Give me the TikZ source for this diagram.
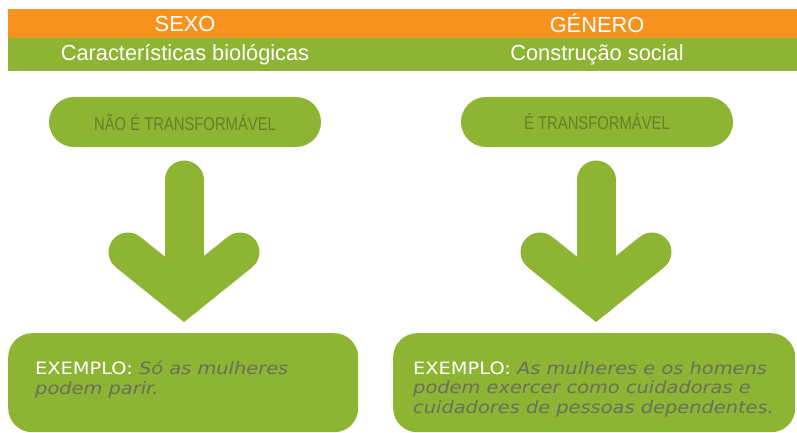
\documentclass[tikz,border=0pt]{standalone}
\usepackage{fontspec}
\setmainfont{Liberation Sans}
\newfontfamily\widefont[FakeStretch=1.14]{DejaVu Sans}
\newfontfamily\pillfont[FakeStretch=0.8]{Liberation Sans}
\definecolor{barorange}{RGB}{246,146,30}
\definecolor{leafgreen}{RGB}{141,180,50}
\definecolor{pilltext}{RGB}{100,128,40}
\definecolor{notegray}{RGB}{104,112,92}
\begin{document}
\begin{tikzpicture}[
        x=1pt, y=-1pt,
        headtext/.style={text=white, inner sep=0pt, font=\fontsize{21.8}{24}\selectfont},
        pill/.style={fill=leafgreen, rounded corners=25pt, minimum width=272pt, minimum height=50pt,
            text=pilltext, font=\pillfont\fontsize{18.5}{20}\selectfont},
        notebox/.style={fill=leafgreen, rounded corners=24pt, minimum height=99pt, anchor=north west},
        notetext/.style={anchor=north west, align=left, inner sep=0pt, text=notegray,
            font=\widefont\fontsize{17}{19.5}\selectfont},
        arrowpart/.style={draw=leafgreen, line width=39pt, line cap=round}
    ]
        \useasboundingbox (0,0) rectangle (797,433);
        % Header bars
        \fill[barorange] (8,9) rectangle (797,38);
        \fill[leafgreen] (8,38) rectangle (797,71);
        % Two columns: title, subtitle, pill and arrow
        \foreach \cx/\col/\title/\subtitle/\tag in {
            185/L/SEXO/Características biológicas/NÃO É TRANSFORMÁVEL,
            597/R/GÉNERO/Construção social/É TRANSFORMÁVEL
        } {
            \node[headtext] (title\col) at (\cx,23.5) {\title};
            \node[headtext] (sub\col) at (\cx,54.5) {\subtitle};
            \node[pill] (pill\col) at (\cx,122) {\tag};
            \coordinate (top\col) at (\cx-1,180);
            \coordinate (tip\col) at (\cx-1,297);
            \draw[arrowpart] (top\col) -- (tip\col);
            \draw[arrowpart, line join=miter] ([xshift=-56pt, yshift=45pt]tip\col) -- (tip\col)
                -- ([xshift=56pt, yshift=45pt]tip\col);
        }
        % Example boxes
        \node[notebox, minimum width=350pt] (boxL) at (8,333) {};
        \node[notebox, minimum width=402pt] (boxR) at (393,333) {};
        \node[notetext] (exL) at (35,361)
            {{\color{white}EXEMPLO:} \textit{Só as mulheres}\\ \textit{podem parir.}};
        \node[notetext] (exR) at (413,361)
            {{\color{white}EXEMPLO:} \textit{As mulheres e os homens}\\
             \textit{podem exercer como cuidadoras e}\\
             \textit{cuidadores de pessoas dependentes.}};
    \end{tikzpicture}
\end{document}
